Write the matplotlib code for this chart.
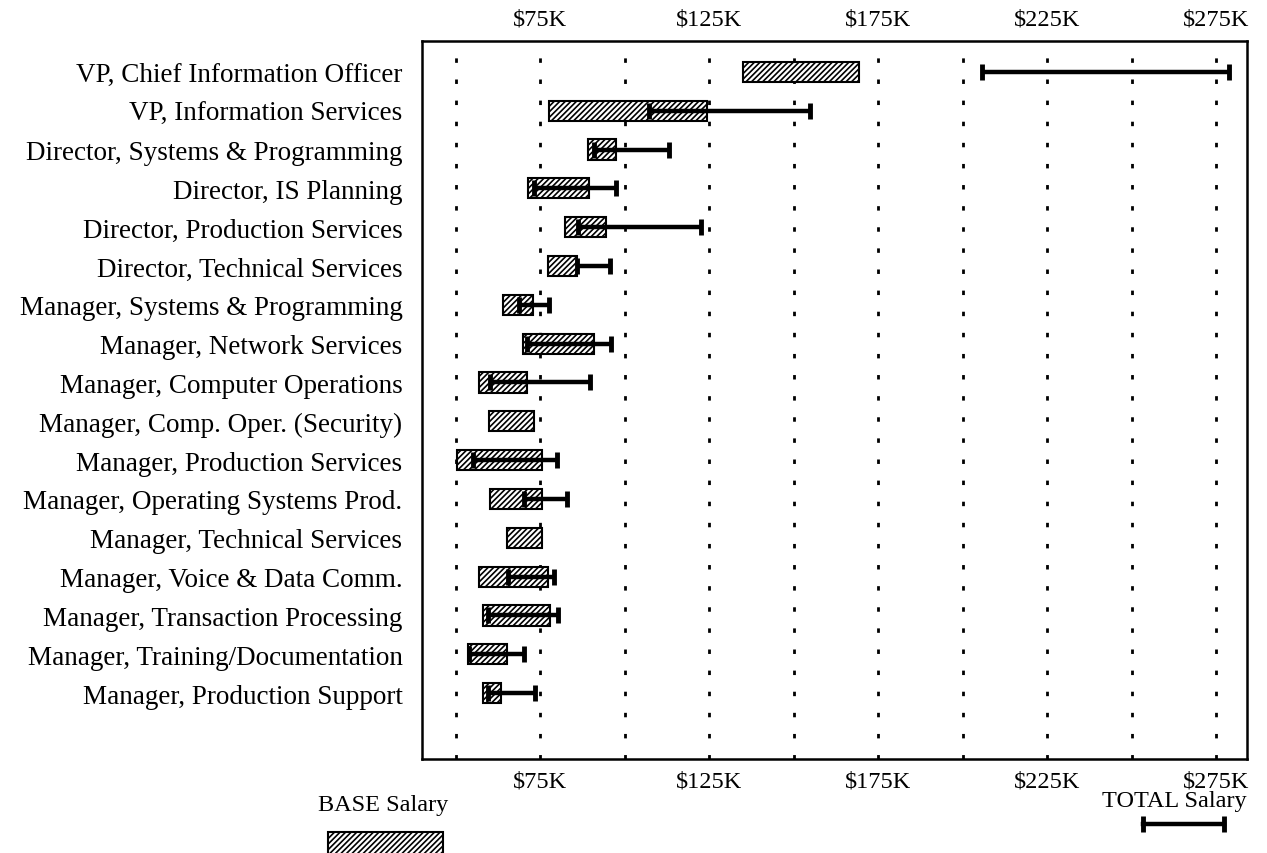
import matplotlib
matplotlib.use("Agg")
from matplotlib import pyplot as plt
from matplotlib.patches import Rectangle
from matplotlib.lines import Line2D

plt.rcParams['font.family'] = ['Liberation Serif', 'DejaVu Serif']
plt.rcParams['hatch.linewidth'] = 1.2

# job titles, top to bottom
titles = ["VP, Chief Information Officer", "VP, Information Services",
          "Director, Systems & Programming", "Director, IS Planning",
          "Director, Production Services", "Director, Technical Services",
          "Manager, Systems & Programming", "Manager, Network Services",
          "Manager, Computer Operations", "Manager, Comp. Oper. (Security)",
          "Manager, Production Services", "Manager, Operating Systems Prod.",
          "Manager, Technical Services", "Manager, Voice & Data Comm.",
          "Manager, Transaction Processing", "Manager, Training/Documentation",
          "Manager, Production Support"]

# base salary range, $K
base_lo = [135, 77.7, 89.2, 71.4, 82.4, 77.4, 63.9, 69.8, 57.0, 59.9, 50.3, 60.2, 65.3, 57.0, 58.1, 53.7, 58.2]
base_hi = [169.2, 124.3, 97.5, 89.5, 94.5, 85.9, 72.9, 91.0, 71.2, 73.1, 75.4, 75.4, 75.5, 77.2, 78.0, 65.3, 63.4]
# total salary range, $K (None = not reported)
tot_lo = [205.8, 107.2, 91.0, 73.2, 86.3, 85.9, 68.8, 71.2, 60.0, None, 55.0, 70.3, None, 65.4, 59.5, 53.9, 59.6]
tot_hi = [278.9, 154.7, 113.1, 97.5, 122.5, 95.6, 77.7, 96.0, 89.8, None, 80.1, 83.0, None, 79.2, 80.2, 70.1, 73.5]

grid_vals = [50, 75, 100, 125, 150, 175, 200, 225, 250, 275]
tick_vals = [75, 125, 175, 225, 275]
tick_labels = ["$75K", "$125K", "$175K", "$225K", "$275K"]

fig = plt.figure(figsize=(12.67, 8.54), dpi=100)
ax = fig.add_axes([0.333, 0.110, 0.651, 0.841])

for g in grid_vals:
    ax.axvline(g, color='black', lw=2, ls=(0, (1.6, 6)), zorder=1)

ys = list(range(len(titles)))
widths = [h - l for l, h in zip(base_lo, base_hi)]
ax.barh(ys, widths, left=base_lo, height=0.52, color='white', edgecolor='black',
        hatch='//////', linewidth=1.5, zorder=2)

for y, lo, hi in zip(ys, tot_lo, tot_hi):
    if lo is None:
        continue
    ax.hlines(y, lo, hi, color='black', lw=3.2, zorder=3)
    ax.plot([lo, hi], [y, y], ls='none', marker='|', ms=11, mew=3.5, color='black', zorder=3)

ax.set_xlim(40, 284)
ax.set_ylim(17.7, -0.8)
ax.set_yticks(ys)
ax.set_yticklabels(titles, fontsize=19.5)
ax.tick_params(axis='y', length=0, pad=14)
ax.set_xticks(tick_vals)
ax.set_xticklabels(tick_labels, fontsize=17.5)
ax.tick_params(axis='x', top=True, labeltop=True, bottom=False, length=0, pad=8)
for s in ax.spines.values():
    s.set_linewidth(1.8)

# legend
fig.text(0.302, 0.057, "BASE Salary", fontsize=17.5, ha='center', va='center')
fig.patches.append(Rectangle((0.259, -0.01), 0.091, 0.035, transform=fig.transFigure,
                             facecolor='white', edgecolor='black', hatch='//////', lw=1.5))
fig.text(0.927, 0.061, "TOTAL Salary", fontsize=17.5, ha='center', va='center')
fig.lines.append(Line2D([0.902, 0.966], [0.034, 0.034], transform=fig.transFigure,
                        color='black', lw=3.2, marker='|', ms=11, mew=3.5))

fig.savefig("out.png", dpi=100)
